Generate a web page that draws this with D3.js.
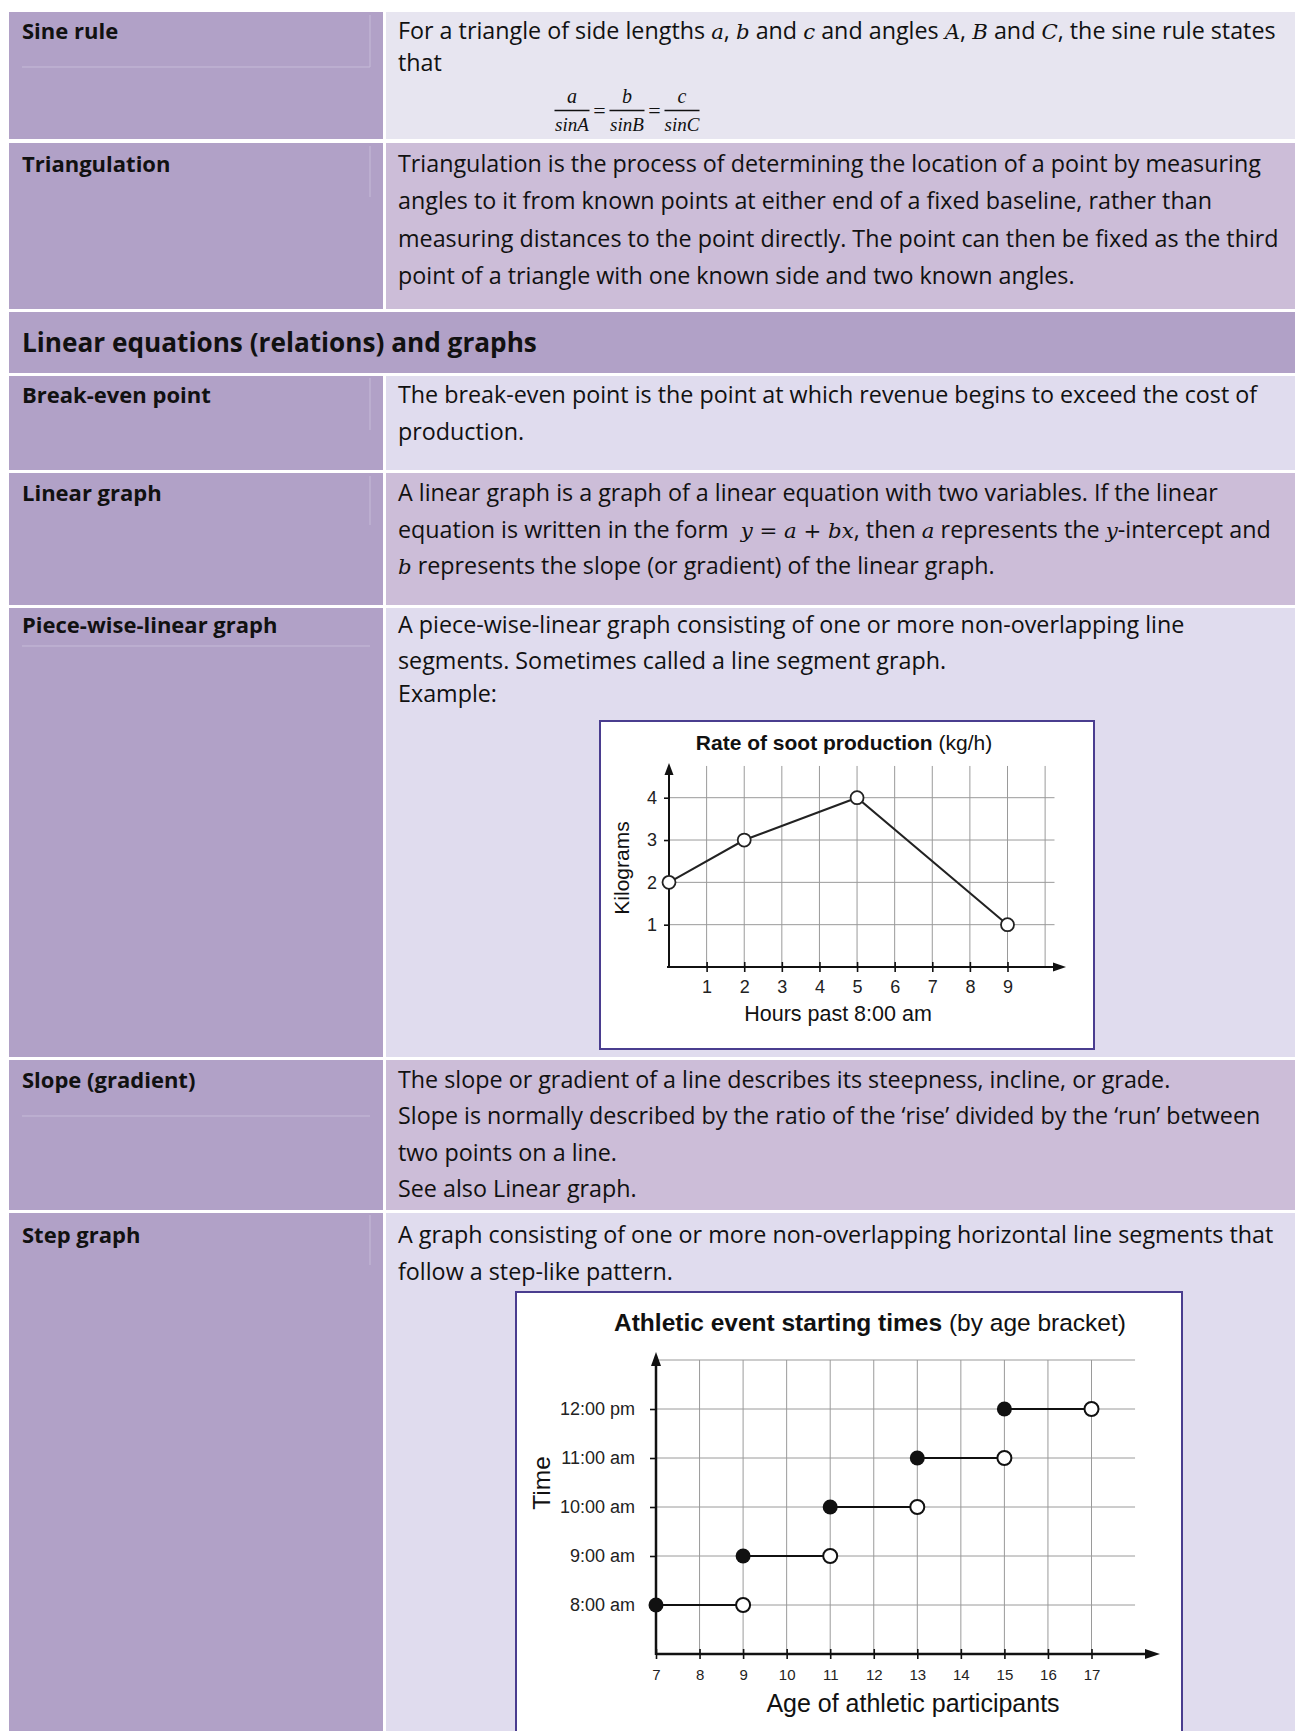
<!DOCTYPE html>
<html><head><meta charset="utf-8">
<script src="https://cdn.jsdelivr.net/npm/d3@7/dist/d3.min.js"></script>
<style>body{margin:0;background:#fff;} svg{display:block} text{white-space:pre}</style>
</head><body><svg id="page" width="1295" height="1731"></svg>
<script>
// ---------------- DATA ----------------
const terms = ["Sine rule", "Triangulation", "Break-even point", "Linear graph",
  "Piece-wise-linear graph", "Slope (gradient)", "Step graph"];
const sectionTitle = "Linear equations (relations) and graphs";
const definitions = [
  ["For a triangle of side lengths *a*, *b* and *c* and angles *A*, *B* and *C*, the sine rule states", "that"],
  ["Triangulation is the process of determining the location of a point by measuring",
   "angles to it from known points at either end of a fixed baseline, rather than",
   "measuring distances to the point directly. The point can then be fixed as the third",
   "point of a triangle with one known side and two known angles."],
  ["The break-even point is the point at which revenue begins to exceed the cost of", "production."],
  ["A linear graph is a graph of a linear equation with two variables. If the linear",
   "equation is written in the form  *y = a + bx*, then *a* represents the *y*-intercept and",
   "*b* represents the slope (or gradient) of the linear graph."],
  ["A piece-wise-linear graph consisting of one or more non-overlapping line",
   "segments. Sometimes called a line segment graph.", "Example:"],
  ["The slope or gradient of a line describes its steepness, incline, or grade.",
   "Slope is normally described by the ratio of the \u2018rise\u2019 divided by the \u2018run\u2019 between",
   "two points on a line.", "See also Linear graph."],
  ["A graph consisting of one or more non-overlapping horizontal line segments that",
   "follow a step-like pattern."]
];
const sineNumerators = ["a", "b", "c"];
const sineDenominators = ["sinA", "sinB", "sinC"];

const sootTitleBold = "Rate of soot production";
const sootTitleUnit = "(kg/h)";
const sootHours = [0, 2, 5, 9];
const sootKilograms = [2, 3, 4, 1];
const sootXTicks = [1, 2, 3, 4, 5, 6, 7, 8, 9];
const sootYTicks = [1, 2, 3, 4];
const sootGridX = [1, 2, 3, 4, 5, 6, 7, 8, 9, 10];
const sootXLabel = "Hours past 8:00 am";
const sootYLabel = "Kilograms";

const stepTitleBold = "Athletic event starting times";
const stepTitleNote = "(by age bracket)";
const stepStartAge = [7, 9, 11, 13, 15];
const stepEndAge = [9, 11, 13, 15, 17];
const stepHour = [8, 9, 10, 11, 12];
const stepXTicks = [7, 8, 9, 10, 11, 12, 13, 14, 15, 16, 17];
const stepYTicks = [8, 9, 10, 11, 12];
const stepYTickLabels = ["8:00 am", "9:00 am", "10:00 am", "11:00 am", "12:00 pm"];
const stepGridY = [8, 9, 10, 11, 12, 13];
const stepXLabel = "Age of athletic participants";
const stepYLabel = "Time";

// ---------------- LAYOUT / STYLE ----------------
const W = 1295;
const C = {left: "#b1a1c7", light: "#e0dcee", sine: "#e7e5f0", mid: "#ccbdd8", faint: "#c6bbd8", box: "#4a3d8f"};
const BODY = "'Open Sans', 'DejaVu Sans', sans-serif";
const MATH = "'DejaVu Serif', 'Liberation Serif', serif";
const FRAC = "'Liberation Serif', 'DejaVu Serif', serif";
const CHART = "'Liberation Sans', Arial, sans-serif";
const leftX0 = 9, leftX1 = 383, rightX0 = 386;
const textLeftX = 22, textRightX = 398;
const bodySize = 23.3, termSize = 22, headSize = 26.2;
const rowBoxes = [
  {top: 12, bottom: 139, fill: C.sine, base: [39, 71]},
  {top: 143, bottom: 309, fill: C.mid, base: [172, 209, 246.5, 284]},
  {top: 376, bottom: 470, fill: C.light, base: [402.5, 439.5]},
  {top: 473, bottom: 605, fill: C.mid, base: [501, 537.5, 574]},
  {top: 608, bottom: 1057, fill: C.light, base: [632.5, 668.5, 702]},
  {top: 1060, bottom: 1210, fill: C.mid, base: [1087.5, 1123.5, 1160.5, 1196.5]},
  {top: 1213, bottom: 1745, fill: C.light, base: [1242.5, 1279.5]}
];
const header = {top: 312, bottom: 373, base: 352};

const svg = d3.select("#page");
svg.append("rect").attr("width", W).attr("height", 1731).attr("fill", "#fff");

function richText(g, x, y, str, size, weight) {
  const t = g.append("text").attr("x", x).attr("y", y)
    .attr("font-family", BODY).attr("font-size", size).attr("font-weight", weight || 400)
    .attr("fill", "#111");
  str.split("*").forEach((seg, i) => {
    if (!seg) return;
    const ts = t.append("tspan").text(seg);
    if (i % 2 === 1) ts.attr("font-family", MATH).attr("font-style", "italic").attr("font-size", size - 2);
  });
  return t;
}

// rows
rowBoxes.forEach((r, i) => {
  svg.append("rect").attr("x", leftX0).attr("y", r.top).attr("width", leftX1 - leftX0).attr("height", r.bottom - r.top).attr("fill", C.left);
  svg.append("rect").attr("x", rightX0).attr("y", r.top).attr("width", W - rightX0).attr("height", r.bottom - r.top).attr("fill", r.fill);
  richText(svg, textLeftX, r.base[0], terms[i], termSize, 700);
  definitions[i].forEach((line, j) => richText(svg, textRightX, r.base[j], line, bodySize, 400));
});
svg.append("rect").attr("x", leftX0).attr("y", header.top).attr("width", W - leftX0).attr("height", header.bottom - header.top).attr("fill", C.left);
richText(svg, textLeftX, header.base, sectionTitle, headSize, 700);

// faint artefact lines in the term column
const faint = svg.append("g").attr("stroke", C.faint).attr("stroke-width", 1).attr("fill", "none");
[[22, 67, 370, 67], [370, 15, 370, 67], [370, 146, 370, 197], [370, 378, 370, 430], [370, 476, 370, 525],
 [22, 646, 370, 646], [22, 1116, 370, 1116], [370, 1215, 370, 1265]].forEach(l =>
  faint.append("line").attr("x1", l[0]).attr("y1", l[1]).attr("x2", l[2]).attr("y2", l[3]));

// sine rule fractions
const fx = d3.scalePoint().domain(sineNumerators).range([572, 682]);
const frac = svg.append("g").attr("font-family", FRAC).attr("font-style", "italic").attr("fill", "#111");
sineNumerators.forEach((n, i) => {
  const cx = fx(n);
  frac.append("text").attr("x", cx).attr("y", 103).attr("text-anchor", "middle").attr("font-size", 20).text(n);
  frac.append("line").attr("x1", cx - 17.5).attr("x2", cx + 17.5).attr("y1", 110.5).attr("y2", 110.5).attr("stroke", "#111").attr("stroke-width", 1.3);
  frac.append("text").attr("x", cx).attr("y", 131).attr("text-anchor", "middle").attr("font-size", 19).text(sineDenominators[i]);
  if (i < 2) frac.append("text").attr("x", cx + 27.5).attr("y", 118).attr("text-anchor", "middle")
    .attr("font-style", "normal").attr("font-size", 22).text("=");
});

function arrowUp(g, x, tip, len, hw) {
  g.append("path").attr("d", `M${x},${tip}L${x - hw},${tip + len}L${x + hw},${tip + len}Z`).attr("fill", "#111");
}
function arrowRight(g, y, tip, len, hw) {
  g.append("path").attr("d", `M${tip},${y}L${tip - len},${y - hw}L${tip - len},${y + hw}Z`).attr("fill", "#111");
}

// ---------------- SOOT CHART ----------------
(function () {
  const g = svg.append("g");
  g.append("rect").attr("x", 600).attr("y", 721).attr("width", 494).attr("height", 328)
    .attr("fill", "#fff").attr("stroke", C.box).attr("stroke-width", 2);
  const x = d3.scaleLinear().domain([0, 9]).range([669, 1007.5]);
  const y = d3.scaleLinear().domain([0, 4]).range([967, 797.7]);
  const gridTop = y(4.75), gridRight = x(10.25);
  const grid = g.append("g").attr("stroke", "#9a9a9a").attr("stroke-width", 1);
  sootGridX.forEach(v => grid.append("line").attr("x1", x(v)).attr("x2", x(v)).attr("y1", y(0)).attr("y2", gridTop));
  sootYTicks.forEach(v => grid.append("line").attr("x1", x(0)).attr("x2", gridRight).attr("y1", y(v)).attr("y2", y(v)));

  const ax = g.append("g").attr("transform", `translate(0,${y(0)})`)
    .call(d3.axisBottom(x).tickValues(sootXTicks).tickFormat(d3.format("d")).tickSize(5).tickPadding(8));
  ax.select(".domain").remove();
  ax.selectAll(".tick line").attr("y1", -5).attr("stroke", "#111").attr("stroke-width", 1.6);
  ax.selectAll(".tick text").attr("font-family", CHART).attr("font-size", 18).attr("fill", "#222");
  const ay = g.append("g").attr("transform", `translate(${x(0)},0)`)
    .call(d3.axisLeft(y).tickValues(sootYTicks).tickFormat(d3.format("d")).tickSize(5).tickPadding(7));
  ay.select(".domain").remove();
  ay.selectAll(".tick line").attr("stroke", "#111").attr("stroke-width", 1.6);
  ay.selectAll(".tick text").attr("font-family", CHART).attr("font-size", 18).attr("fill", "#222");

  g.append("line").attr("x1", x(0) - 2).attr("x2", 1056).attr("y1", y(0)).attr("y2", y(0)).attr("stroke", "#111").attr("stroke-width", 2);
  g.append("line").attr("x1", x(0)).attr("x2", x(0)).attr("y1", y(0) + 1).attr("y2", 772).attr("stroke", "#111").attr("stroke-width", 2);
  arrowUp(g, x(0), 763, 12, 4.5);
  arrowRight(g, y(0), 1066, 13, 4.5);

  const pts = sootHours.map((h, i) => [x(h), y(sootKilograms[i])]);
  g.append("path").attr("d", d3.line()(pts)).attr("fill", "none").attr("stroke", "#222").attr("stroke-width", 2);
  g.selectAll("circle.s").data(pts).join("circle").attr("cx", d => d[0]).attr("cy", d => d[1]).attr("r", 6.5)
    .attr("fill", "#fff").attr("stroke", "#222").attr("stroke-width", 1.8);

  const t = g.append("text").attr("x", 844).attr("y", 750).attr("text-anchor", "middle")
    .attr("font-family", CHART).attr("font-size", 21).attr("fill", "#111");
  t.append("tspan").attr("font-weight", 700).text(sootTitleBold + " ");
  t.append("tspan").text(sootTitleUnit);
  g.append("text").attr("x", 838).attr("y", 1021).attr("text-anchor", "middle").attr("font-family", CHART)
    .attr("font-size", 21.5).attr("fill", "#111").text(sootXLabel);
  g.append("text").attr("transform", "translate(629,868) rotate(-90)").attr("text-anchor", "middle").attr("font-family", CHART)
    .attr("font-size", 21).attr("fill", "#111").text(sootYLabel);
})();

// ---------------- STEP CHART ----------------
(function () {
  const g = svg.append("g");
  g.append("rect").attr("x", 516).attr("y", 1292).attr("width", 666).attr("height", 460)
    .attr("fill", "#fff").attr("stroke", C.box).attr("stroke-width", 2);
  const x = d3.scaleLinear().domain([7, 17]).range([656, 1091.5]);
  const y = d3.scaleLinear().domain([7, 12]).range([1654, 1409]);
  const grid = g.append("g").attr("stroke", "#9a9a9a").attr("stroke-width", 1);
  stepXTicks.slice(1).forEach(v => grid.append("line").attr("x1", x(v)).attr("x2", x(v)).attr("y1", y(7)).attr("y2", y(13)));
  stepGridY.forEach(v => grid.append("line").attr("x1", x(7)).attr("x2", x(18)).attr("y1", y(v)).attr("y2", y(v)));

  const ax = g.append("g").attr("transform", `translate(0,${y(7)})`)
    .call(d3.axisBottom(x).tickValues(stepXTicks).tickFormat(d3.format("d")).tickSize(5).tickPadding(10));
  ax.select(".domain").remove();
  ax.selectAll(".tick line").attr("y1", -5).attr("stroke", "#111").attr("stroke-width", 1.6);
  ax.selectAll(".tick text").attr("font-family", CHART).attr("font-size", 15).attr("fill", "#222");
  const ay = g.append("g").attr("transform", `translate(${x(7)},0)`)
    .call(d3.axisLeft(y).tickValues(stepYTicks).tickFormat((d, i) => stepYTickLabels[i]).tickSize(6).tickPadding(15));
  ay.select(".domain").remove();
  ay.selectAll(".tick line").attr("stroke", "#111").attr("stroke-width", 1.6);
  ay.selectAll(".tick text").attr("font-family", CHART).attr("font-size", 18).attr("fill", "#222");

  g.append("line").attr("x1", x(7)).attr("x2", 1148).attr("y1", y(7)).attr("y2", y(7)).attr("stroke", "#111").attr("stroke-width", 2.5);
  g.append("line").attr("x1", x(7)).attr("x2", x(7)).attr("y1", y(7) + 1).attr("y2", 1362).attr("stroke", "#111").attr("stroke-width", 2.5);
  arrowUp(g, x(7), 1352, 14, 5);
  arrowRight(g, y(7), 1160, 15, 5);

  stepHour.forEach((h, i) => {
    g.append("line").attr("x1", x(stepStartAge[i])).attr("x2", x(stepEndAge[i])).attr("y1", y(h)).attr("y2", y(h))
      .attr("stroke", "#111").attr("stroke-width", 2);
  });
  g.selectAll("circle.open").data(stepHour).join("circle").attr("cx", (d, i) => x(stepEndAge[i])).attr("cy", d => y(d))
    .attr("r", 7).attr("fill", "#fff").attr("stroke", "#111").attr("stroke-width", 2);
  g.selectAll("circle.fill").data(stepHour).join("circle").attr("cx", (d, i) => x(stepStartAge[i])).attr("cy", d => y(d))
    .attr("r", 7.5).attr("fill", "#111");

  const t = g.append("text").attr("x", 870).attr("y", 1331).attr("text-anchor", "middle")
    .attr("font-family", CHART).attr("font-size", 24.5).attr("fill", "#111");
  t.append("tspan").attr("font-weight", 700).text(stepTitleBold + " ");
  t.append("tspan").text(stepTitleNote);
  g.append("text").attr("x", 913).attr("y", 1712).attr("text-anchor", "middle").attr("font-family", CHART)
    .attr("font-size", 25).attr("fill", "#111").text(stepXLabel);
  g.append("text").attr("transform", "translate(550,1483) rotate(-90)").attr("text-anchor", "middle").attr("font-family", CHART)
    .attr("font-size", 24.5).attr("fill", "#111").text(stepYLabel);
})();
</script></body></html>
